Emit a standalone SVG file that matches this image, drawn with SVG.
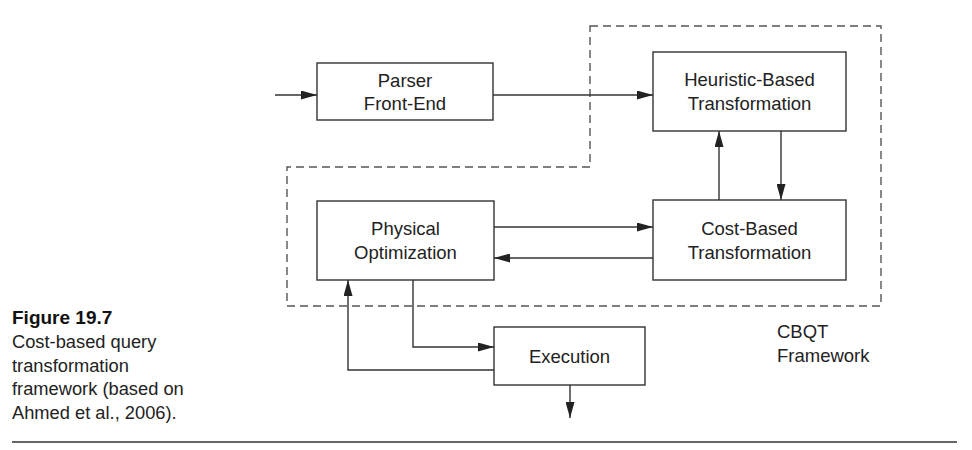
<svg xmlns="http://www.w3.org/2000/svg" width="972" height="450" viewBox="0 0 972 450">
<style>
.box{fill:#fff;stroke:#333;stroke-width:1.4}
.t{font-family:"Liberation Sans",Arial,sans-serif;font-size:18.5px;fill:#222;text-anchor:middle}
.lbl{font-family:"Liberation Sans",Arial,sans-serif;font-size:18.5px;fill:#222}
.cap{font-family:"Liberation Sans",Arial,sans-serif;font-size:18.3px;fill:#222}
.capb{font-family:"Liberation Sans",Arial,sans-serif;font-size:19px;font-weight:bold;fill:#111}
.c{fill:none;stroke:#333;stroke-width:1.4}
.dash{fill:none;stroke:#555;stroke-width:1.4;stroke-dasharray:8 5}
</style>
<defs>
<marker id="ah" markerUnits="userSpaceOnUse" markerWidth="16" markerHeight="9" refX="16" refY="4.5" orient="auto">
<path d="M0,0 L16,4.5 L0,9 Z" fill="#222"/>
</marker>
</defs>
<g id="cbqt-frame">
<path class="dash" d="M590,26 L881,26 L881,306 L287,306 L287,167 L590,167 Z"/>
<text class="lbl" x="777" y="338">CBQT</text>
<text class="lbl" x="777" y="362">Framework</text>
</g>
<g id="connectors">
<path class="c" d="M275,95 L317,95" marker-end="url(#ah)"/>
<path class="c" d="M493,95 L653,95" marker-end="url(#ah)"/>
<path class="c" d="M719,200 L719,131" marker-end="url(#ah)"/>
<path class="c" d="M781,131 L781,200" marker-end="url(#ah)"/>
<path class="c" d="M494,227 L653,227" marker-end="url(#ah)"/>
<path class="c" d="M653,258 L494,258" marker-end="url(#ah)"/>
<path class="c" d="M413,280 L413,347 L494,347" marker-end="url(#ah)"/>
<path class="c" d="M494,370 L348,370 L348,280" marker-end="url(#ah)"/>
<path class="c" d="M570,385 L570,418" marker-end="url(#ah)"/>
</g>
<g id="parser">
<rect class="box" x="317" y="63" width="176" height="57"/>
<text class="t" x="405" y="87">Parser</text>
<text class="t" x="405" y="110">Front-End</text>
</g>
<g id="heuristic">
<rect class="box" x="653" y="52" width="193" height="79"/>
<text class="t" x="749.5" y="86">Heuristic-Based</text>
<text class="t" x="749.5" y="110">Transformation</text>
</g>
<g id="cost">
<rect class="box" x="653" y="200" width="193" height="80"/>
<text class="t" x="749.5" y="235">Cost-Based</text>
<text class="t" x="749.5" y="259">Transformation</text>
</g>
<g id="physical">
<rect class="box" x="317" y="201" width="177" height="79"/>
<text class="t" x="405.5" y="235">Physical</text>
<text class="t" x="405.5" y="259">Optimization</text>
</g>
<g id="execution">
<rect class="box" x="494" y="327" width="151" height="58"/>
<text class="t" x="569.5" y="363">Execution</text>
</g>
<g id="caption">
<text class="capb" x="12" y="324">Figure 19.7</text>
<text class="cap" x="12" y="348">Cost-based query</text>
<text class="cap" x="12" y="371.5">transformation</text>
<text class="cap" x="12" y="395">framework (based on</text>
<text class="cap" x="12" y="418.5">Ahmed et al., 2006).</text>
<path d="M12,442 L957,442" stroke="#333" stroke-width="1.4"/>
</g>
</svg>
